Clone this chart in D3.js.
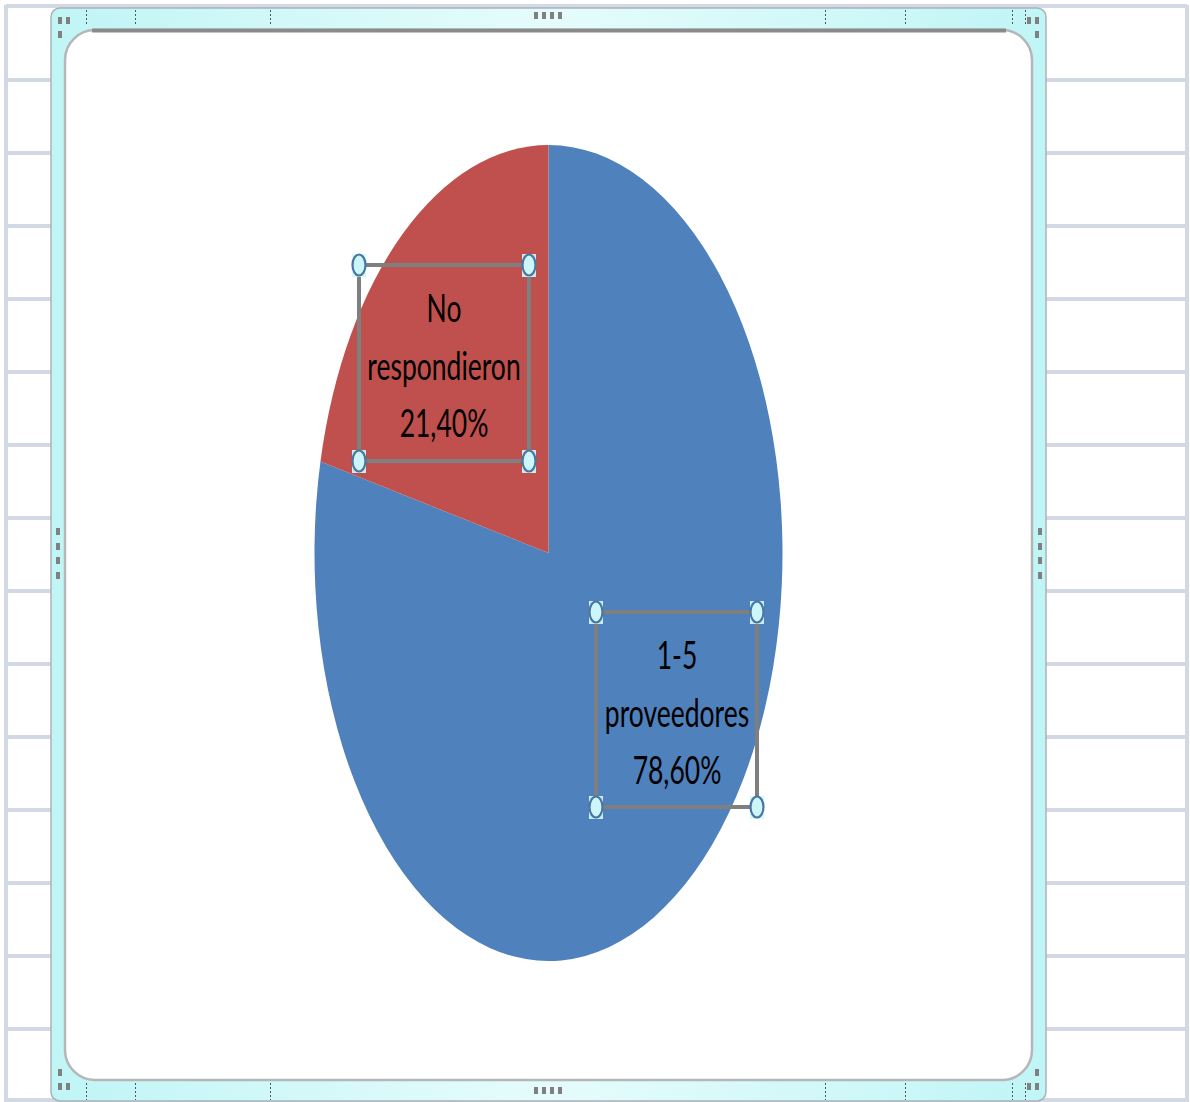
<!DOCTYPE html>
<html>
<head>
<meta charset="utf-8">
<script src="https://cdn.jsdelivr.net/npm/d3@7"></script>
<style>
  html, body { margin: 0; padding: 0; background: #ffffff; }
  svg { display: block; }
</style>
</head>
<body>
<svg id="chart" width="1190" height="1102"></svg>
<script>
// Survey answers: number of suppliers
const categories = ["1-5 proveedores", "No respondieron"];
const values = [78.6, 21.4];
const labelLines = [["1-5", "proveedores"], ["No", "respondieron"]];
const colors = ["#4f81bd", "#c0504d"];

const W = 1190, H = 1102;
const svg = d3.select("#chart");
const defs = svg.append("defs");

// ---- worksheet grid behind the chart object ----
const rowLines = [6, 80, 153, 226, 299, 372, 445, 518, 591, 664, 737, 810, 883, 956, 1029, 1100];
const grid = svg.append("g").attr("stroke", "#d2d9e5").attr("stroke-width", 4);
rowLines.forEach(y => grid.append("line").attr("x1", 6).attr("x2", 1187).attr("y1", y).attr("y2", y));
grid.append("line").attr("x1", 6).attr("x2", 6).attr("y1", 5).attr("y2", 1102);
grid.append("line").attr("x1", 1187).attr("x2", 1187).attr("y1", 5).attr("y2", 1102);

// ---- selected chart frame ----
const frameGrad = defs.append("linearGradient").attr("id", "frameGrad")
  .attr("x1", "0").attr("x2", "1").attr("y1", "0").attr("y2", "0");
frameGrad.append("stop").attr("offset", "0").attr("stop-color", "#c0f5f6");
frameGrad.append("stop").attr("offset", "0.5").attr("stop-color", "#e6fcfc");
frameGrad.append("stop").attr("offset", "1").attr("stop-color", "#c0f5f6");

svg.append("rect")
  .attr("x", 51).attr("y", 8).attr("width", 995).attr("height", 1093)
  .attr("rx", 9).attr("ry", 9)
  .attr("fill", "url(#frameGrad)")
  .attr("stroke", "#a9b3bb").attr("stroke-width", 1.5);

// column boundaries seen through the frame
const colTicks = [86, 135, 270, 825, 905, 1012, 1025];
const ticks = svg.append("g").attr("stroke", "#555").attr("stroke-width", 1).attr("stroke-dasharray", "2,2");
colTicks.forEach(x => {
  ticks.append("line").attr("x1", x + 0.5).attr("x2", x + 0.5).attr("y1", 10).attr("y2", 26);
  ticks.append("line").attr("x1", x + 0.5).attr("x2", x + 0.5).attr("y1", 1083).attr("y2", 1100);
});

// chart area
svg.append("rect")
  .attr("x", 65).attr("y", 30).attr("width", 967).attr("height", 1050)
  .attr("rx", 30).attr("ry", 30)
  .attr("fill", "#ffffff")
  .attr("stroke", "#b4b6b8").attr("stroke-width", 2.5);
svg.append("line")
  .attr("x1", 92).attr("x2", 1006).attr("y1", 30.5).attr("y2", 30.5)
  .attr("stroke", "#8a8a8a").attr("stroke-width", 4);

// resize grips
const grips = svg.append("g").attr("fill", "#808080");
function grip(x, y, w, h) { grips.append("rect").attr("x", x).attr("y", y).attr("width", w).attr("height", h); }
[534, 542, 550, 558].forEach(x => { grip(x, 12, 4, 7); grip(x, 1087, 4, 7); });
[528, 543, 557, 572].forEach(y => { grip(56, y, 4, 7); grip(1038, y, 4, 7); });
// corners
grip(58, 17, 4, 7); grip(66, 17, 4, 7); grip(58, 31, 4, 7);
grip(1027, 17, 4, 7); grip(1035, 17, 4, 7); grip(1035, 31, 4, 7);
grip(58, 1069, 4, 7); grip(58, 1083, 4, 7); grip(66, 1083, 4, 7);
grip(1035, 1069, 4, 7); grip(1027, 1083, 4, 7); grip(1035, 1083, 4, 7);

// ---- pie ----
const cx = 548.5, cy = 553, rx = 234, ry = 408;
const pie = d3.pie().sort(null).value(d => d);
const arc = d3.arc().innerRadius(0).outerRadius(rx);
const arcs = pie(values);

svg.append("g")
  .attr("transform", `translate(${cx},${cy}) scale(1,${ry / rx})`)
  .selectAll("path")
  .data(arcs)
  .join("path")
  .attr("d", arc)
  .attr("fill", (d, i) => colors[i]);

// ---- data labels (selected text boxes) ----
const fmt = v => d3.format(".2f")(v).replace(".", ",") + "%";
const labelBoxes = [
  { x0: 596, y0: 612, x1: 757, y1: 807, tx: 677, base: 669 },   // 1-5 proveedores
  { x0: 359, y0: 265, x1: 529, y1: 461, tx: 444, base: 322 }    // No respondieron
];
const lineStep = 57.5;

arcs.forEach((d, i) => {
  const b = labelBoxes[i];
  const g = svg.append("g");
  g.append("rect")
    .attr("x", b.x0).attr("y", b.y0).attr("width", b.x1 - b.x0).attr("height", b.y1 - b.y0)
    .attr("fill", "none").attr("stroke", "#7f7f7f").attr("stroke-width", 4);

  const lines = labelLines[i].concat([fmt(d.data)]);
  lines.forEach((t, k) => {
    g.append("text")
      .attr("transform", `translate(${b.tx},${b.base + k * lineStep}) scale(1.02,1.5)`)
      .attr("text-anchor", "middle")
      .attr("font-family", "Lato, 'Open Sans', sans-serif")
      .attr("font-size", 26)
      .attr("fill", "#000")
      .text(t);
  });

  [[b.x0, b.y0], [b.x1, b.y0], [b.x0, b.y1], [b.x1, b.y1]].forEach(([hx, hy]) => {
    g.append("rect")
      .attr("x", hx - 7).attr("y", hy - 11).attr("width", 14).attr("height", 23)
      .attr("fill", "#d2fafc").attr("opacity", 0.9);
    g.append("ellipse")
      .attr("cx", hx).attr("cy", hy).attr("rx", 6.5).attr("ry", 10.5)
      .attr("fill", "#cdf6fb").attr("stroke", "#4a76a0").attr("stroke-width", 2.2);
  });
});
</script>
</body>
</html>
